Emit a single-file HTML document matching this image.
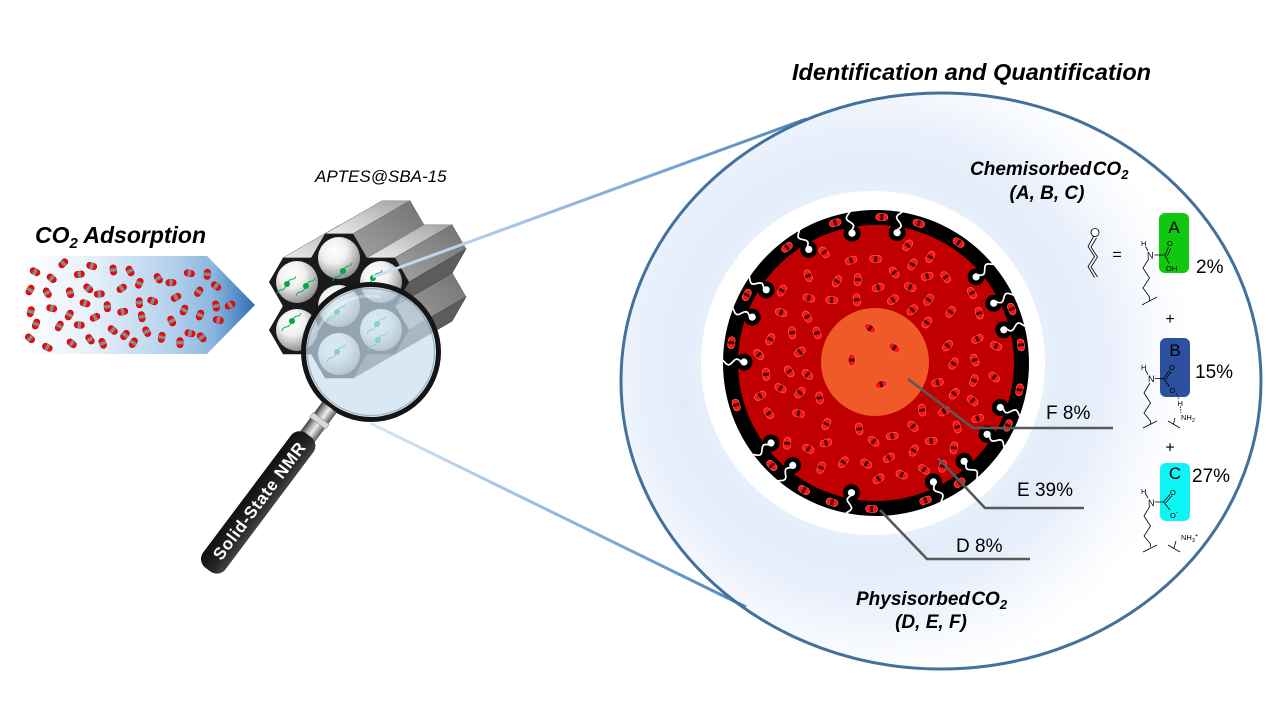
<!DOCTYPE html>
<html><head><meta charset="utf-8">
<style>
html,body{margin:0;padding:0;background:#fff;width:1280px;height:720px;overflow:hidden;}
svg{display:block;}
text{font-family:"Liberation Sans",Arial,sans-serif;}
</style></head><body>
<svg id="s" xmlns="http://www.w3.org/2000/svg" width="1280" height="720" viewBox="0 0 1280 720">
<defs>
<linearGradient id="ag" x1="22" y1="0" x2="255" y2="0" gradientUnits="userSpaceOnUse">
 <stop offset="0" stop-color="#ffffff"/>
 <stop offset="0.3" stop-color="#e6f0f9"/>
 <stop offset="0.65" stop-color="#b2d0ec"/>
 <stop offset="0.82" stop-color="#8ab6e0"/>
 <stop offset="1" stop-color="#2f6eb2"/>
</linearGradient>
<radialGradient id="halo" gradientUnits="userSpaceOnUse" cx="873" cy="363" r="320">
 <stop offset="0" stop-color="#ffffff"/>
 <stop offset="0.5" stop-color="#eaf3fd"/>
 <stop offset="0.6" stop-color="#e2ecf9"/>
 <stop offset="0.72" stop-color="#e8effb"/>
 <stop offset="0.86" stop-color="#f5f8fd"/>
 <stop offset="1" stop-color="#ffffff"/>
</radialGradient>
<linearGradient id="lt" gradientUnits="userSpaceOnUse" x1="373" y1="277" x2="806" y2="119">
 <stop offset="0" stop-color="#cfe2f3"/><stop offset="1" stop-color="#4f86c0"/>
</linearGradient>
<linearGradient id="lb" gradientUnits="userSpaceOnUse" x1="370" y1="423" x2="746" y2="607">
 <stop offset="0" stop-color="#d8e8f5"/><stop offset="1" stop-color="#4f86c0"/>
</linearGradient>
<linearGradient id="gtop" x1="0" y1="1" x2="1" y2="0">
 <stop offset="0" stop-color="#ececec"/><stop offset="1" stop-color="#a4a4a4"/>
</linearGradient>
<linearGradient id="gur" x1="0" y1="1" x2="1" y2="0">
 <stop offset="0" stop-color="#a2a2a2"/><stop offset="1" stop-color="#727272"/>
</linearGradient>
<radialGradient id="pore" cx="0.38" cy="0.32" r="0.7">
 <stop offset="0" stop-color="#ffffff"/><stop offset="0.45" stop-color="#efefef"/><stop offset="1" stop-color="#8e8e8e"/>
</radialGradient>
<linearGradient id="silver" x1="0" y1="0" x2="0" y2="1">
 <stop offset="0" stop-color="#5a5a5a"/><stop offset="0.45" stop-color="#ececec"/><stop offset="0.7" stop-color="#a8a8a8"/><stop offset="1" stop-color="#3c3c3c"/>
</linearGradient>
<linearGradient id="hdl" x1="0" y1="0" x2="0" y2="1">
 <stop offset="0" stop-color="#444"/><stop offset="0.35" stop-color="#262626"/><stop offset="1" stop-color="#111"/>
</linearGradient>
<g id="lm">
 <rect x="-5.2" y="-3.2" width="10.4" height="6.4" rx="3.2" fill="#ee0a0a" stroke="#b00000" stroke-width="0.5"/>
 <rect x="-1.7" y="-3.1" width="3.4" height="6.2" fill="#8a8a8a"/>
</g>
<g id="pm">
 <rect x="-6" y="-3.4" width="12" height="6.8" rx="3.4" fill="#ff1010" stroke="#ff7373" stroke-width="0.6"/>
 <rect x="-1.4" y="-3.1" width="2.8" height="6.2" fill="#3a0000"/>
</g>
</defs>

<rect width="1280" height="720" fill="#fff"/>

<!-- left arrow -->
<polygon points="22,256 207,256 255,305 207,354 22,354" fill="url(#ag)"/>
<g id="leftmol"></g>
<text x="35" y="243" font-size="23" font-weight="bold" font-style="italic">CO<tspan font-size="15" dy="5">2</tspan><tspan dy="-5"> Adsorption</tspan></text>

<text x="315" y="182" font-size="17" font-style="italic">APTES@SBA-15</text>

<!-- big ellipse with halo -->
<ellipse cx="941" cy="381" rx="320" ry="288" fill="url(#halo)"/>

<!-- hex block -->
<g id="hexg"></g>
<g id="hexf"></g>

<!-- lens -->
<circle cx="371" cy="352" r="66" fill="#c8e0ef" opacity="0.7"/>
<path d="M318,330 A56,56 0 0 1 380,297" fill="none" stroke="#ffffff" stroke-width="3" opacity="0.35"/>
<circle cx="371" cy="352" r="63.5" fill="none" stroke="#7d8f99" stroke-width="1.2" opacity="0.6"/>
<circle cx="371" cy="352" r="67.5" fill="none" stroke="#151515" stroke-width="5"/>

<!-- handle -->
<g transform="translate(371,352) rotate(126.87)">
 <rect x="69" y="-9" width="38" height="18" fill="url(#silver)"/>
 <rect x="83" y="-10" width="6" height="20" fill="#d9d9d9" stroke="#888" stroke-width="0.5"/>
 <rect x="104" y="-14" width="168" height="28" rx="11" fill="url(#hdl)"/>
</g>
<text transform="translate(259,501) rotate(-53.13)" text-anchor="middle" dy="6" font-size="17" font-weight="bold" fill="#fff" textLength="142" lengthAdjust="spacing">Solid-State NMR</text>

<!-- connecting lines -->
<line x1="373" y1="277" x2="806" y2="119" stroke="url(#lt)" stroke-width="3"/>
<line x1="370" y1="423" x2="746" y2="607" stroke="url(#lb)" stroke-width="3"/>

<!-- ellipse outline -->
<ellipse cx="941" cy="381" rx="320" ry="288" fill="none" stroke="#41719c" stroke-width="3"/>

<!-- pore -->
<circle cx="873" cy="363" r="172" fill="#fff"/>
<circle cx="876" cy="363" r="153" fill="#000"/>
<circle cx="876" cy="363" r="138" fill="#c00000"/>
<g id="ligs"></g>
<circle cx="875" cy="362" r="54" fill="#ef5a28"/>
<g id="poremol"></g>

<!-- label lines -->
<g stroke="#595959" stroke-width="2.6" fill="none">
 <polyline points="908,379 973,428 1113,428"/>
 <polyline points="938,458 985,508 1084,508"/>
 <polyline points="880,510 927,559 1030,559"/>
</g>
<text x="1046" y="419" font-size="19">F 8%</text>
<text x="1017" y="496" font-size="19">E 39%</text>
<text x="956" y="552" font-size="19">D 8%</text>

<!-- titles -->
<text x="792" y="80" font-size="23.5" font-weight="bold" font-style="italic">Identification and Quantification</text>
<text x="970" y="175" font-size="19" font-weight="bold" font-style="italic" word-spacing="-4">Chemisorbed CO<tspan font-size="13" dy="4">2</tspan></text>
<text x="1047" y="199" font-size="19" font-weight="bold" font-style="italic" text-anchor="middle">(A, B, C)</text>
<text x="856" y="605" font-size="19" font-weight="bold" font-style="italic" word-spacing="-4">Physisorbed CO<tspan font-size="13" dy="4">2</tspan></text>
<text x="931" y="628" font-size="19" font-weight="bold" font-style="italic" text-anchor="middle">(D, E, F)</text>

<!-- chemistry -->
<rect x="1159" y="213" width="30" height="60" rx="6" fill="#0fc80f"/>
<rect x="1160" y="338" width="30" height="59" rx="6" fill="#2c509d"/>
<rect x="1160" y="463" width="30" height="58" rx="6" fill="#0ff5f5"/>
<g font-size="17" text-anchor="middle" fill="#000">
 <text x="1174" y="233">A</text>
 <text x="1175" y="356">B</text>
 <text x="1175" y="479">C</text>
</g>
<g fill="none" stroke="#000" stroke-width="0.8">
 <circle cx="1095" cy="232.5" r="4" fill="#fff"/>
 <polyline points="1093.5,236.5 1088,246.5 1094.5,256.5 1088,266.5 1094.5,277.5"/>
 <polyline points="1096.5,238 1091,247 1097.5,257 1091,267 1097.5,277"/>
 <line x1="1145.5" y1="246.5" x2="1148" y2="251"/>
 <line x1="1154.5" y1="255" x2="1165" y2="255"/>
 <line x1="1165" y1="255" x2="1168.5" y2="247"/>
 <line x1="1167.3" y1="256" x2="1170.8" y2="248"/>
 <line x1="1165" y1="255" x2="1169" y2="263.5"/>
 <polyline points="1149,258.5 1143,268 1149.5,278 1143,288 1149.5,297 1149.5,301"/>
 <line x1="1142" y1="305" x2="1157" y2="297"/>
 <line x1="1145.5" y1="370" x2="1148" y2="374.5"/>
 <line x1="1155" y1="378.5" x2="1163.5" y2="378.5"/>
 <line x1="1163.5" y1="378.5" x2="1169.5" y2="370.5"/>
 <line x1="1165.5" y1="379.5" x2="1171.5" y2="371.5"/>
 <line x1="1163.5" y1="378.5" x2="1169.5" y2="386.5"/>
 <line x1="1176" y1="393" x2="1179" y2="399" stroke-dasharray="1.5,1.2"/>
 <line x1="1180.5" y1="406.5" x2="1181" y2="413" stroke-dasharray="1.5,1.2"/>
 <polyline points="1150,383 1144,393 1150.5,403 1144,413 1150.5,421 1150.5,424"/>
 <line x1="1143" y1="428" x2="1157" y2="421"/>
 <line x1="1168" y1="421" x2="1180" y2="428"/>
 <line x1="1175" y1="418" x2="1173.5" y2="424"/>
 <line x1="1145.5" y1="493.5" x2="1148" y2="498"/>
 <line x1="1155" y1="502" x2="1163.5" y2="502"/>
 <line x1="1163.5" y1="502" x2="1170" y2="494.5"/>
 <line x1="1165.5" y1="503" x2="1172" y2="495.5"/>
 <line x1="1163.5" y1="502" x2="1170" y2="510"/>
 <polyline points="1150,506 1144,516 1150.5,526 1144,536 1150.5,544 1150.5,547"/>
 <line x1="1143" y1="552" x2="1157" y2="545"/>
 <line x1="1168" y1="545" x2="1180" y2="552"/>
 <line x1="1176" y1="541" x2="1174" y2="548"/>
</g>
<g font-size="7.5" fill="#000">
 <text x="1141" y="246">H</text>
 <text x="1147" y="258.5" font-size="9">N</text>
 <text x="1167" y="246">O</text>
 <text x="1166" y="271">OH</text>
 <text x="1141" y="370">H</text>
 <text x="1148" y="382" font-size="9">N</text>
 <text x="1169" y="370">O</text>
 <text x="1169.5" y="393">O</text>
 <text x="1177.5" y="406">H</text>
 <text x="1181" y="420">NH<tspan font-size="5.5" dy="2">2</tspan></text>
 <text x="1141" y="494">H</text>
 <text x="1148" y="506" font-size="9">N</text>
 <text x="1170" y="495">O</text>
 <text x="1170" y="518">O<tspan font-size="6" dy="-4">-</tspan></text>
 <text x="1181" y="540">NH<tspan font-size="5.5" dy="2">3</tspan><tspan font-size="5.5" dy="-5">+</tspan></text>
</g>
<text x="1117" y="259.5" font-size="16" text-anchor="middle">=</text>
<text x="1170" y="324" font-size="16" text-anchor="middle">+</text>
<text x="1170" y="452.5" font-size="16" text-anchor="middle">+</text>
<g font-size="19" fill="#000">
 <text x="1196" y="273">2%</text>
 <text x="1195" y="378">15%</text>
 <text x="1192" y="482">27%</text>
</g>
</svg>
<script>
(function(){
var NS='http://www.w3.org/2000/svg';
function el(t,a,p){var e=document.createElementNS(NS,t);for(var k in a)e.setAttribute(k,a[k]);p.appendChild(e);return e;}
var sd=987654321;function rnd(){sd=(Math.imul(sd,1103515245)+12345)>>>0;return sd/4294967296;}
function pts(a){return a.map(function(p){return p[0].toFixed(1)+','+p[1].toFixed(1);}).join(' ');}
var L=[[190,160],[105,185],[155,205],[275,168],[238,193],[340,180],[390,183],[418,220],[475,205],[513,218],[568,190],[622,193],[648,228],[90,240],[142,248],[210,248],[265,235],[298,252],[365,235],[596,245],[528,262],[458,273],[418,278],[255,280],[322,290],[368,305],[155,295],[92,305],[208,315],[285,322],[425,320],[515,333],[552,300],[600,315],[648,288],[690,285],[655,330],[108,342],[178,348],[238,345],[338,360],[375,375],[440,365],[485,382],[400,398],[308,400],[270,388],[215,400],[142,412],[90,385],[540,398],[570,370],[605,382]];
var lg=document.getElementById('leftmol');
L.forEach(function(p){var x=p[0]/3,y=210+p[1]/3,a=Math.round(rnd()*180);
 el('use',{href:'#lm',transform:'translate('+x.toFixed(1)+','+y.toFixed(1)+') rotate('+a+')'},lg);});
var hg=document.getElementById('hexg'),hf=document.getElementById('hexf');
var R=28,H=24.2,D=[57,-33];
function hv(cx,cy){return [[cx+R,cy],[cx+R/2,cy+H],[cx-R/2,cy+H],[cx-R,cy],[cx-R/2,cy-H],[cx+R/2,cy-H]];}
var C={A:[297,282],B:[339,258],C:[381,282],D:[297,330],E:[339,306],F:[381,330],G:[339,354]};
['D','A','G','E','B','F','C'].forEach(function(k){var v=hv(C[k][0],C[k][1]);var b=v.map(function(p){return [p[0]+D[0],p[1]+D[1]];});
 el('polygon',{points:pts([v[4],v[5],b[5],b[4]]),fill:'url(#gtop)',stroke:'#8a8a8a','stroke-width':0.6},hg);
 el('polygon',{points:pts([v[5],v[0],b[0],b[5]]),fill:'url(#gur)',stroke:'#6a6a6a','stroke-width':0.6},hg);
 el('polygon',{points:pts([v[0],v[1],b[1],b[0]]),fill:'#5c5c5c',stroke:'#474747','stroke-width':0.6},hg);
});
var lig={A:[[-10,2],[9,4]],B:[[4,13]],C:[[-8,-4]],D:[[-5,-9]],E:[[-2,6]],F:[[-4,-6],[-3,10]],G:[[-2,-2]]};
['A','B','C','D','E','F','G'].forEach(function(k){var c=C[k];var v=hv(c[0],c[1]);
 el('polygon',{points:pts(v),fill:'#1a1a1a'},hf);
 el('circle',{cx:c[0],cy:c[1],r:21,fill:'url(#pore)'},hf);
 lig[k].forEach(function(d){var x=c[0]+d[0],y=c[1]+d[1];
  el('path',{d:'M'+(x-1)+','+(y+2)+' q-2,4 -5,4 q-3,0 -4,4',fill:'none',stroke:'#00b050','stroke-width':0.9},hf);
  el('path',{d:'M'+(x+1)+','+(y-2)+' q2,-3 5,-3 q2,0 3,-3',fill:'none',stroke:'#00b050','stroke-width':0.9},hf);
  el('circle',{cx:x,cy:y,r:3,fill:'#00a84a'},hf);});
});
var cx=876,cy=363;
var lp=[[852,233],[897,233],[808,248],[976,277],[765,289],[992,304],[752,317],[1003,330],[743,362],[996,406],[985,433],[771,443],[793,465],[962,459],[932,479],[852,490]];
var gl=document.getElementById('ligs');var ligPts=[];
lp.forEach(function(p){var a=Math.atan2(p[1]-cy,p[0]-cx);var ca=Math.cos(a),sa=Math.sin(a);
 var x=cx+132*ca,y=cy+132*sa;ligPts.push([x,y]);
 el('circle',{cx:x.toFixed(1),cy:y.toFixed(1),r:8.5,fill:'#000'},gl);
});
lp.forEach(function(p,i){var a=Math.atan2(p[1]-cy,p[0]-cx);var ca=Math.cos(a),sa=Math.sin(a);
 var d='';for(var j=0;j<=12;j++){var t=j/12;var r=135+25*t;var o=3*Math.sin(t*Math.PI*3);
  var x=cx+r*ca-o*sa,y=cy+r*sa+o*ca;d+=(j?'L':'M')+x.toFixed(1)+','+y.toFixed(1);}
 el('path',{d:d,fill:'none',stroke:'#fff','stroke-width':1.7},gl);
 el('circle',{cx:ligPts[i][0].toFixed(1),cy:ligPts[i][1].toFixed(1),r:3.6,fill:'#fff'},gl);
});
var rm=[[835,222.3],[881.7,220],[918.3,225],[957.7,244],[787.3,247.7],[745,294],[731.7,342.7],[736,405],[773.3,464],[805,488.3],[832.7,500],[871.7,506.7],[925,499],[957.7,480],[1003.3,423.3],[1015,389],[1020,345],[1011.7,309]];
rm.forEach(function(p){var a=Math.atan2(p[1]-cy,p[0]-cx);var x=cx+146*Math.cos(a),y=cy+146*Math.sin(a);
 el('use',{href:'#pm',transform:'translate('+x.toFixed(1)+','+y.toFixed(1)+') rotate('+(a*180/Math.PI+90).toFixed(0)+')'},gl);});
var pg=document.getElementById('poremol');var placed=[];var tries=0;
while(placed.length<74&&tries<8000){tries++;
 var a=rnd()*Math.PI*2,r=Math.sqrt(64*64+rnd()*(123*123-64*64));
 var x=cx+r*Math.cos(a),y=cy+r*Math.sin(a);
 var ok=true;for(var i=0;i<placed.length;i++){var dx=placed[i][0]-x,dy=placed[i][1]-y;if(dx*dx+dy*dy<18.5*18.5){ok=false;break;}}
 if(!ok)continue;
 for(var j=0;j<ligPts.length;j++){var ex=ligPts[j][0]-x,ey=ligPts[j][1]-y;if(ex*ex+ey*ey<15*15){ok=false;break;}}
 if(!ok)continue;
 placed.push([x,y]);
 el('use',{href:'#pm',transform:'translate('+x.toFixed(1)+','+y.toFixed(1)+') rotate('+Math.round(rnd()*180)+')'},pg);
}
[[870,328.3,35],[894.3,347.7,35],[851.7,360,90],[881,384.3,-15]].forEach(function(m){
 el('use',{href:'#pm',transform:'translate('+m[0]+','+m[1]+') rotate('+m[2]+')'},pg);});
})();
</script>
</body></html>
